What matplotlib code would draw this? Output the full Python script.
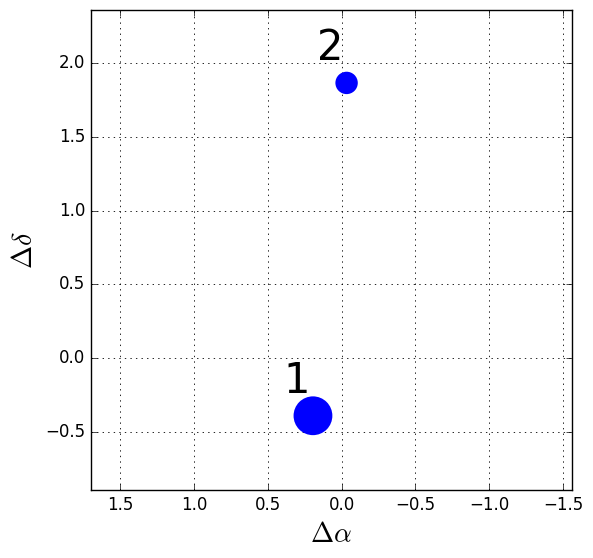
import matplotlib
matplotlib.use("Agg")
import matplotlib.pyplot as plt

plt.style.use('classic')

# Data
labels = ["1", "2"]
dalpha = [0.195, -0.033]
ddelta = [-0.39, 1.865]
sizes = [780, 260]

fig = plt.figure(figsize=(5.93, 5.58), dpi=100, facecolor='white')
ax = fig.add_axes([91/593, 1-490/558, (571.5-91)/593, (490-10)/558])

ax.scatter(dalpha, ddelta, s=sizes, c='blue', edgecolors='none', zorder=3)
for lab, x, y in zip(labels, dalpha, ddelta):
    ax.annotate(lab, (x, y), xytext=(-11.5, 16.5), textcoords='offset points',
                ha='center', va='baseline', fontsize=30)

ax.set_xlim(1.7, -1.558)
ax.set_ylim(-0.893, 2.359)
ax.set_xticks([1.5, 1.0, 0.5, 0.0, -0.5, -1.0, -1.5])
ax.set_yticks([-0.5, 0.0, 0.5, 1.0, 1.5, 2.0])
ax.grid(True, linestyle=':', color='black', linewidth=0.6)
ax.set_xlabel(r'$\Delta\alpha$', fontsize=20)
ax.set_ylabel(r'$\Delta\delta$', fontsize=20)
ax.tick_params(labelsize=12)

fig.savefig('out.png', dpi=100, facecolor='white')
